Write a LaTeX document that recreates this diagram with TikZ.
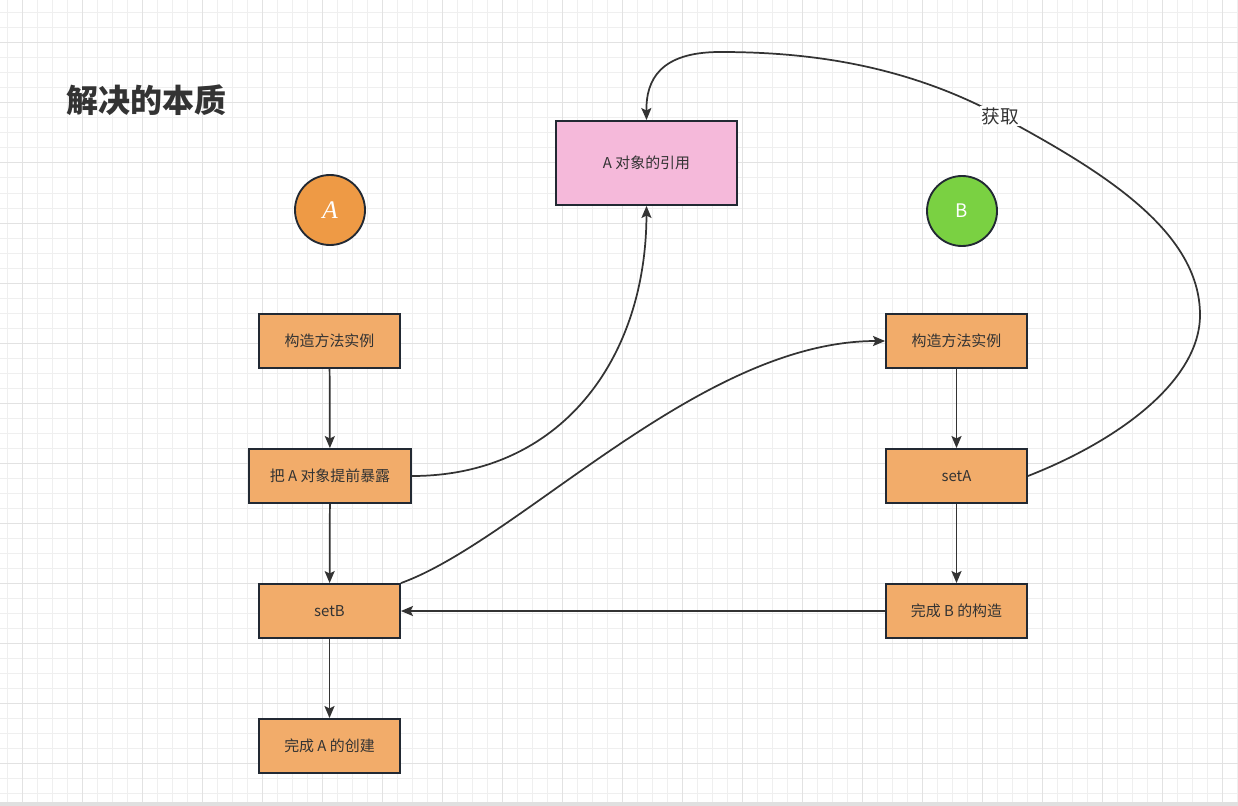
\documentclass[tikz,border=0pt]{standalone}
\usepackage{fontspec}
\setmainfont{Noto Sans CJK SC}
\newfontfamily\seriffam{Liberation Serif}
\usetikzlibrary{arrows.meta}
\definecolor{gridminor}{HTML}{EFEFEF}
\definecolor{gridmajor}{HTML}{E2E2E2}
\definecolor{boxfill}{HTML}{F2AC6A}
\definecolor{pinkfill}{HTML}{F5B9DA}
\definecolor{orangec}{HTML}{EE9A45}
\definecolor{greenc}{HTML}{7AD142}
\definecolor{edgec}{HTML}{222933}
\definecolor{txt}{HTML}{333333}
\definecolor{linec}{HTML}{333333}
\tikzset{
  stepbox/.style={draw=edgec, line width=1.4pt, fill=boxfill, text=txt, inner sep=0pt,
    minimum width=105.75pt, minimum height=40.5pt, font=\fontsize{11.2}{13}\selectfont},
  refbox/.style={stepbox, fill=pinkfill, minimum width=135.75pt, minimum height=63pt},
  circ/.style={circle, draw=edgec, line width=1.4pt, minimum size=52.5pt, inner sep=0pt, text=white},
  arr/.style={draw=linec, line width=1.3pt, -{Stealth[length=9pt,width=7.5pt,inset=1.8pt]}},
  lbl/.style={fill=white, inner sep=1pt, text=txt, font=\fontsize{14}{16}\selectfont}
}
\begin{document}
\begin{tikzpicture}[x=0.75pt,y=-0.75pt]
\useasboundingbox (0,0) rectangle (1238,806);
\fill[white] (0,0) rectangle (1238,806);
% grid
\foreach \x in {7,22,...,1237} \draw[gridminor, line width=0.75pt] (\x,0) -- (\x,803);
\foreach \y in {13,28,...,800} \draw[gridminor, line width=0.75pt] (0,\y) -- (1238,\y);
\foreach \x in {22,82,...,1237} \draw[gridmajor, line width=0.75pt] (\x,0) -- (\x,803);
\foreach \y in {43,103,...,800} \draw[gridmajor, line width=0.75pt] (0,\y) -- (1238,\y);
\fill[gridmajor!90!black!10!gridmajor] (0,802) rectangle (1238,806);
% title
\node[anchor=west, text=txt, font=\fontsize{24}{28}\selectfont\bfseries] (title) at (62,100) {解决的本质};
% circles
\node[circ, fill=orangec] (ca) at (330,210) {\seriffam\itshape\fontsize{19}{19}\selectfont A};
\node[circ, fill=greenc] (cb) at (962,211) {\fontsize{14}{14}\selectfont B};
% reference box
\node[refbox] (ref) at (646.5,163) {A 对象的引用};
% A column
\node[stepbox] (a1) at (329.5,341) {构造方法实例};
\node[stepbox, minimum width=121.5pt] (a2) at (330,476) {把 A 对象提前暴露};
\node[stepbox] (a3) at (329.5,611) {setB};
\node[stepbox] (a4) at (329.5,746) {完成 A 的创建};
% B column
\node[stepbox] (b1) at (956.5,341) {构造方法实例};
\node[stepbox] (b2) at (956.5,476) {setA};
\node[stepbox] (b3) at (956.5,611) {完成 B 的构造};
% straight connectors
\draw[arr] (a1) -- (a2);
\draw[arr] (a2) -- (a3);
\draw[arr] (a3) -- (a4);
\draw[arr] (b1) -- (b2);
\draw[arr] (b2) -- (b3);
\draw[arr] (b3) -- (a3);
% curved connectors
\draw[arr] (a2.east) .. controls (560,476) and (646,360) .. (ref.south);
\draw[arr] (a3.north east) .. controls (520,540) and (700,341) .. (b1.west);
\draw[arr] (b2.east) .. controls (1120,440) and (1200,380) .. (1200,315)
  .. controls (1200,230) and (1100,170) .. (1000,116)
  .. controls (900,62) and (800,52) .. (720,52)
  .. controls (660,52) and (646,80) .. (ref.north);
\node[lbl] (get) at (1000,116) {获取};
\end{tikzpicture}
\end{document}
